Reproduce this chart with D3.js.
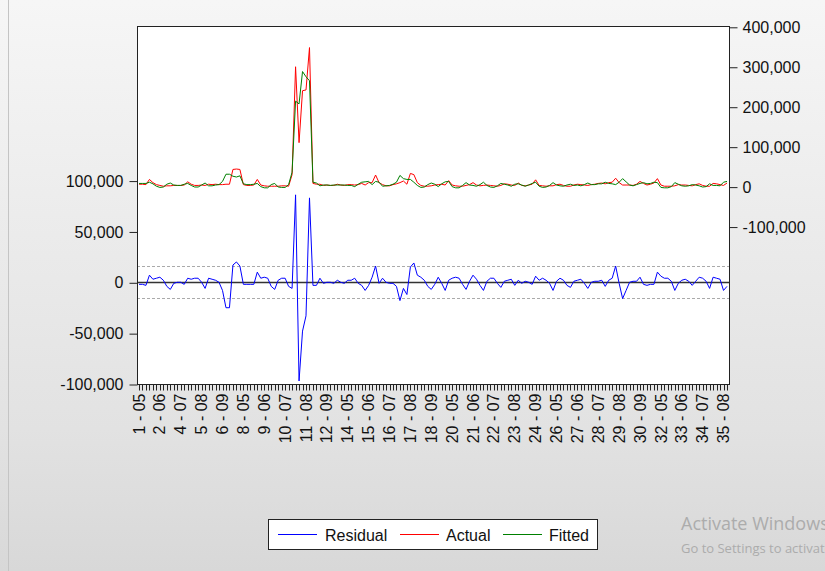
<!DOCTYPE html>
<meta charset="utf-8">
<style>
body { margin: 0; }
svg { display: block; font-family: "Liberation Sans", Arial, sans-serif; }
.axis text { font-size: 16px; fill: #111; }
.axis line { stroke: #222; }
.axis .domain { display: none; }
.series { fill: none; stroke-width: 1; }
</style>
<svg width="825" height="571"></svg>
<script src="https://d3js.org/d3.v7.min.js"></script>
<script>

// cross-section ids (3 is missing) and sub-periods
var ids = [1, 2, 4, 5, 6, 7, 8, 9, 10, 11, 12, 13, 14, 15, 16, 17, 18, 19, 20,
    21, 22, 23, 24, 25, 26, 27, 28, 29, 30, 31, 32, 33, 34, 35];
var periods = ["05", "06", "07", "08", "09"];

var residual = [
  -2000, -2000, -3000, 7000, 3000, 4000, 5000, 2000, -4000, -7000,
  -1000, 0, 0, -2000, 4000, 3000, 4000, 4000, 0, -6000,
  4000, 3000, 2000, 0, -8000, -25000, -25000, 17000, 20000, 16000,
  -2000, -2000, -2000, -2000, 10000, 4000, 5000, 4000, -4000, -7000,
  2000, 4000, 4000, -4000, -6000, 86000, -97000, -48000, -33000, 83000,
  -3000, -3000, 4000, -1000, 0, 0, -1000, 2000, 0, -1000,
  2000, 2000, 4000, -1000, -3000, -8000, -3000, 5000, 16000, -1000,
  4000, 0, -1000, -1000, -4000, -18000, -6000, -12000, 15000, 19000,
  7000, 5000, 2000, -4000, -7000, -2000, 5000, -1000, -8000, 2000,
  4000, 5000, 4000, -2000, -7000, 1000, 7000, 3000, -3000, -8000,
  1000, 4000, 4000, -1000, -5000, 1000, 2000, 3000, -3000, 2000,
  -1000, 1000, 0, -2000, 6000, 2000, 4000, 2000, -1000, -8000,
  1000, 4000, 2000, -3000, -5000, 1000, 2000, 3000, -1000, -6000,
  0, 1000, 1000, 2000, -4000, 2000, 4000, 16000, -1000, -16000,
  -8000, 0, 1000, 1000, 5000, -2000, -3000, -2000, -2000, 10000,
  6000, 4000, 4000, 1000, -8000, -1000, 2000, 3000, 1000, -3000,
  1000, 5000, 4000, 1000, -6000, 5000, 4000, 3000, -8000, -4000
];

var actual = [
  6000, 6000, 5000, 18000, 10000, 5000, 3000, 1000, 2000, 2000,
  3000, 3000, 3000, 4000, 12000, 6000, 3000, 3000, 4000, 3000,
  6000, 5000, 6000, 5000, 5000, 6000, 6000, 43000, 44000, 43000,
  5000, 3000, 3000, 4000, 18000, 4000, 2000, 1000, 1000, 1000,
  1000, 2000, 2000, 1000, 30000, 300000, 110000, 240000, 242000, 348000,
  8000, 6000, 6000, 3000, 4000, 3000, 3000, 6000, 4000, 3000,
  5000, 5000, 4000, 5000, 8000, 4000, 10000, 10000, 29000, 10000,
  5000, 2000, 2000, 5000, 7000, 10000, 14000, 6000, 33000, 30000,
  10000, 3000, 1000, 1000, 2000, 4000, 5000, 6000, 4000, 15000,
  4000, 2000, 1000, 1000, 3000, 5000, 10000, 4000, 2000, 3000,
  4000, 3000, 2000, 1000, 3000, 7000, 6000, 4000, 3000, 9000,
  3000, 2000, 4000, 6000, 17000, 3000, 2000, 1000, 2000, 2000,
  5000, 6000, 3000, 1000, 1000, 4000, 6000, 5000, 4000, 3000,
  5000, 6000, 8000, 9000, 7000, 10000, 11000, 21000, 10000, 4000,
  4000, 4000, 3000, 6000, 13000, 8000, 4000, 6000, 9000, 20000,
  4000, 1000, 1000, 1000, 2000, 5000, 4000, 4000, 3000, 2000,
  5000, 7000, 3000, 1000, 1000, 8000, 7000, 5000, 3000, 9000
];

var fitted = [
  8000, 8000, 8000, 11000, 7000, 1000, -2000, -1000, 6000, 9000,
  4000, 3000, 3000, 6000, 8000, 3000, -1000, -1000, 4000, 9000,
  2000, 2000, 4000, 5000, 13000, 31000, 31000, 26000, 24000, 27000,
  7000, 5000, 5000, 6000, 8000, 0, -3000, -3000, 5000, 8000,
  -1000, -2000, -2000, 5000, 36000, 214000, 207000, 288000, 275000, 265000,
  11000, 9000, 2000, 4000, 4000, 3000, 4000, 4000, 4000, 4000,
  3000, 3000, 0, 6000, 11000, 12000, 13000, 5000, 13000, 11000,
  1000, 2000, 3000, 6000, 11000, 28000, 20000, 18000, 18000, 11000,
  3000, -2000, -1000, 5000, 9000, 6000, 0, 7000, 12000, 13000,
  0, -3000, -3000, 3000, 10000, 4000, 3000, 1000, 5000, 11000,
  3000, -1000, -2000, 2000, 8000, 6000, 4000, 1000, 6000, 7000,
  4000, 1000, 4000, 8000, 11000, 1000, -2000, -1000, 3000, 10000,
  4000, 2000, 1000, 4000, 6000, 3000, 4000, 2000, 5000, 9000,
  5000, 5000, 7000, 7000, 11000, 8000, 7000, 5000, 11000, 20000,
  12000, 4000, 2000, 5000, 8000, 10000, 7000, 8000, 11000, 10000,
  -2000, -3000, -3000, 0, 10000, 6000, 2000, 1000, 2000, 5000,
  4000, 2000, -1000, 0, 7000, 3000, 3000, 2000, 11000, 13000
];

var leftTicks = [-100000, -50000, 0, 50000, 100000];
var rightTicks = [-100000, 0, 100000, 200000, 300000, 400000];
var seBand = 15700;

var obs = [];
ids.forEach(function(id) {
  periods.forEach(function(p) { obs.push(id + " - " + p); });
});

var svg = d3.select("svg"),
    width = +svg.attr("width"),
    height = +svg.attr("height");

var plotLeft = 137, plotRight = 729, plotTop = 26, plotBottom = 384;

var x = d3.scalePoint().domain(obs).range([139, 727]);
var yL = d3.scaleLinear().domain([-100000, 252000]).range([plotBottom, plotTop]);
var yR = d3.scaleLinear().domain([-494000, 402000]).range([plotBottom, plotTop]);

var fmt = function(d) { return d3.format(",")(d).replace("\u2212", "-"); };

// window background
var defs = svg.append("defs");
var grad = defs.append("linearGradient")
    .attr("id", "bg").attr("x1", 0).attr("y1", 0).attr("x2", 0).attr("y2", 1);
grad.append("stop").attr("offset", "0%").attr("stop-color", "#f6f6f6");
grad.append("stop").attr("offset", "75%").attr("stop-color", "#e2e2e2");
grad.append("stop").attr("offset", "100%").attr("stop-color", "#d8d8d8");
defs.append("clipPath").attr("id", "plot")
  .append("rect").attr("x", plotLeft).attr("y", plotTop)
    .attr("width", plotRight - plotLeft).attr("height", plotBottom - plotTop);

svg.append("rect").attr("width", width).attr("height", height).attr("fill", "url(#bg)");
svg.append("line").attr("x1", 8.5).attr("x2", 8.5).attr("y1", 0).attr("y2", height)
    .attr("stroke", "#c4c4c4");

svg.append("rect")
    .attr("x", plotLeft).attr("y", plotTop)
    .attr("width", plotRight - plotLeft).attr("height", plotBottom - plotTop)
    .attr("fill", "#fff");

var plot = svg.append("g").attr("clip-path", "url(#plot)");

[seBand, -seBand].forEach(function(v) {
  plot.append("line")
      .attr("x1", plotLeft).attr("x2", plotRight)
      .attr("y1", Math.round(yL(v)) + 0.5).attr("y2", Math.round(yL(v)) + 0.5)
      .attr("stroke", "#aaa").attr("stroke-dasharray", "3,2");
});
plot.append("line")
    .attr("x1", plotLeft).attr("x2", plotRight)
    .attr("y1", Math.round(yL(0)) + 0.5).attr("y2", Math.round(yL(0)) + 0.5)
    .attr("stroke", "#333").attr("stroke-width", 1.3);

var lineL = d3.line().x(function(d, i) { return x(obs[i]); }).y(function(d) { return yL(d); });
var lineR = d3.line().x(function(d, i) { return x(obs[i]); }).y(function(d) { return yR(d); });

plot.append("path").datum(residual).attr("class", "series")
    .attr("stroke", "#0000ff").attr("d", lineL);
plot.append("path").datum(actual).attr("class", "series")
    .attr("stroke", "#ff0000").attr("d", lineR);
plot.append("path").datum(fitted).attr("class", "series")
    .attr("stroke", "#008000").attr("d", lineR);

svg.append("rect")
    .attr("x", plotLeft + 0.5).attr("y", plotTop + 0.5)
    .attr("width", plotRight - plotLeft).attr("height", plotBottom - plotTop)
    .attr("fill", "none").attr("stroke", "#222");

svg.append("g").attr("class", "axis")
    .attr("transform", "translate(" + (plotLeft + 0.5) + ",0.5)")
    .call(d3.axisLeft(yL).tickValues(leftTicks).tickSize(8).tickPadding(6).tickFormat(fmt));

svg.append("g").attr("class", "axis")
    .attr("transform", "translate(" + (plotRight + 0.5) + ",0.5)")
    .call(d3.axisRight(yR).tickValues(rightTicks).tickSize(8).tickPadding(5).tickFormat(fmt));

var xAxis = svg.append("g").attr("class", "axis")
    .attr("transform", "translate(0," + (plotBottom + 0.5) + ")");
xAxis.selectAll("line").data(obs).enter().append("line")
    .attr("x1", function(d) { return Math.round(x(d)) + 0.5; })
    .attr("x2", function(d) { return Math.round(x(d)) + 0.5; })
    .attr("y1", 0).attr("y2", 6);
xAxis.selectAll("text").data(obs.filter(function(d, i) { return i % 6 === 0; }))
  .enter().append("text")
    .attr("transform", function(d) { return "translate(" + x(d) + ",9) rotate(-90)"; })
    .attr("text-anchor", "end")
    .attr("dy", "0.35em")
    .text(function(d) { return d; });

// legend
var legendItems = [
  { name: "Residual", color: "#0000ff", x: 278, tx: 325 },
  { name: "Actual", color: "#ff0000", x: 400, tx: 446 },
  { name: "Fitted", color: "#008000", x: 503, tx: 549 }
];
var legend = svg.append("g");
legend.append("rect")
    .attr("x", 268.5).attr("y", 519.5).attr("width", 329).attr("height", 30)
    .attr("fill", "#fff").attr("stroke", "#222");
legend.selectAll("line").data(legendItems).enter().append("line")
    .attr("x1", function(d) { return d.x; }).attr("x2", function(d) { return d.x + 39; })
    .attr("y1", 534.5).attr("y2", 534.5)
    .attr("stroke", function(d) { return d.color; });
legend.selectAll("text").data(legendItems).enter().append("text")
    .attr("x", function(d) { return d.tx; }).attr("y", 540.5)
    .attr("font-size", 16).attr("fill", "#111")
    .text(function(d) { return d.name; });

// desktop watermark seen in the screenshot
svg.append("text").attr("x", 681).attr("y", 530)
    .attr("font-family", "Open Sans").attr("font-size", 18).attr("fill", "#acacac")
    .text("Activate Windows");
svg.append("text").attr("x", 681).attr("y", 553)
    .attr("font-family", "Open Sans").attr("font-size", 13).attr("fill", "#acacac")
    .text("Go to Settings to activate Windows.");

</script>
